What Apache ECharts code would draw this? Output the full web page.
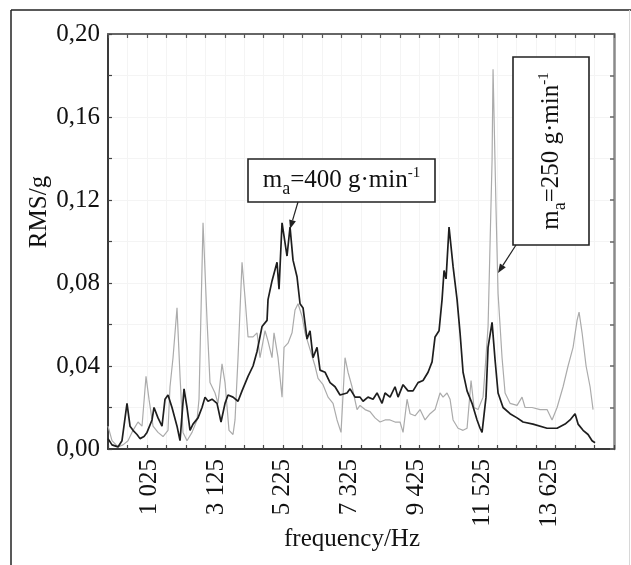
<!DOCTYPE html>
<html><head><meta charset="utf-8">
<script src="https://cdn.jsdelivr.net/npm/echarts@6/dist/echarts.min.js"></script>
<style>html,body{margin:0;padding:0;background:#fff}#c{width:631px;height:565px}</style>
</head><body><div id="c"></div>
<script>
// ---- data ----
const freq400 = [-283,-157,32,158,316,411,505,631,726,852,946,1104,1167,1293,1419,1514,1608,1734,1892,1987,2113,2207,2302,2396,2554,2680,2775,2869,2995,3153,3279,3405,3500,3657,3815,3941,4130,4288,4414,4571,4729,4760,4886,5044,5107,5202,5359,5454,5548,5674,5769,5864,5990,6084,6179,6305,6399,6557,6715,6872,7030,7250,7345,7503,7660,7755,7912,8070,8196,8354,8448,8606,8763,8858,9016,9173,9331,9488,9646,9804,9930,10024,10150,10245,10308,10371,10465,10592,10718,10812,10907,11033,11190,11348,11443,11506,11630,11695,11821,11915,12010,12168,12388,12609,12798,13113,13554,13870,14122,14279,14437,14532,14689,14847,14973,15067];
const rms400 = [0.005,0.002,0.001,0.004,0.022,0.011,0.009,0.007,0.005,0.006,0.008,0.014,0.020,0.015,0.011,0.024,0.026,0.020,0.011,0.004,0.029,0.020,0.009,0.012,0.015,0.020,0.025,0.023,0.024,0.022,0.013,0.022,0.026,0.025,0.023,0.028,0.035,0.040,0.047,0.059,0.062,0.072,0.081,0.090,0.077,0.109,0.093,0.107,0.091,0.083,0.070,0.068,0.053,0.057,0.044,0.049,0.038,0.037,0.032,0.030,0.026,0.027,0.029,0.025,0.025,0.023,0.025,0.024,0.027,0.022,0.027,0.025,0.030,0.025,0.031,0.028,0.028,0.032,0.033,0.037,0.042,0.054,0.057,0.072,0.086,0.082,0.107,0.088,0.072,0.056,0.037,0.028,0.022,0.014,0.010,0.008,0.025,0.049,0.061,0.043,0.027,0.020,0.017,0.015,0.013,0.012,0.010,0.010,0.012,0.014,0.017,0.012,0.009,0.007,0.004,0.003];
const freq250 = [-283,-157,32,190,348,505,663,789,915,1009,1136,1293,1451,1608,1671,1766,1892,1987,2081,2207,2365,2522,2585,2712,2838,2932,3090,3184,3310,3405,3531,3657,3720,3815,3941,4035,4130,4288,4414,4508,4666,4760,4886,4949,5076,5202,5265,5391,5517,5611,5706,5832,5927,6084,6242,6336,6494,6652,6809,6935,7061,7187,7282,7408,7566,7660,7818,7975,8133,8291,8448,8606,8763,8921,9016,9142,9236,9394,9551,9709,9867,10024,10182,10276,10402,10497,10592,10749,10907,11033,11159,11253,11380,11537,11600,11695,11821,11852,11947,12010,12136,12231,12388,12609,12766,12861,13082,13334,13554,13712,13870,14059,14216,14374,14500,14563,14658,14784,14910,15004];
const rms250 = [0.011,0.004,0.001,0.002,0.004,0.009,0.013,0.011,0.035,0.024,0.011,0.008,0.006,0.009,0.030,0.044,0.068,0.035,0.008,0.004,0.008,0.014,0.024,0.109,0.062,0.032,0.027,0.022,0.041,0.032,0.009,0.007,0.014,0.044,0.090,0.073,0.054,0.054,0.056,0.044,0.057,0.052,0.044,0.056,0.044,0.025,0.049,0.051,0.056,0.067,0.070,0.064,0.056,0.048,0.040,0.034,0.031,0.025,0.022,0.014,0.008,0.044,0.037,0.030,0.019,0.021,0.019,0.018,0.015,0.013,0.014,0.014,0.013,0.013,0.008,0.024,0.017,0.016,0.019,0.014,0.017,0.019,0.027,0.025,0.027,0.024,0.014,0.010,0.009,0.010,0.033,0.020,0.019,0.025,0.038,0.059,0.139,0.183,0.115,0.075,0.044,0.027,0.022,0.021,0.025,0.020,0.020,0.019,0.019,0.014,0.020,0.030,0.040,0.049,0.062,0.066,0.056,0.040,0.030,0.019];
const xTickLabels = [1025, 3125, 5225, 7325, 9425, 11525, 13625];
const yTickLabels = [0, 0.04, 0.08, 0.12, 0.16, 0.20];
const xMin = -283, xMax = 15664;
const yMin = 0, yMax = 0.2;

// ---- layout / style ----
const F = 'Liberation Serif';
const xTicks = [];
for (let k = 0; k <= 26; k++) xTicks.push(xMin + k * (xMax - xMin) / 26);
const yTicks = [];
for (let k = 0; k <= 10; k++) yTicks.push(+(k * 0.02).toFixed(2));

function fmtX(v) {
  v = Math.round(v);
  if (v >= 1000) return Math.floor(v / 1000) + ' ' + String(v % 1000).padStart(3, '0');
  return String(v);
}
function fmtY(v) { return v.toFixed(2).replace('.', ','); }

function pairs(xs, ys) { return xs.map((x, i) => [x, ys[i]]); }

function arrow(x1, y1, x2, y2) {
  const dx = x2 - x1, dy = y2 - y1, L = Math.hypot(dx, dy);
  const ux = dx / L, uy = dy / L, hl = 9, hw = 3.5;
  const bx = x2 - ux * hl, by = y2 - uy * hl;
  return [
    {type: 'line', shape: {x1: x1, y1: y1, x2: bx, y2: by}, style: {stroke: '#222', lineWidth: 1.2}, z: 100},
    {type: 'polygon', shape: {points: [[x2, y2], [bx - uy * hw, by + ux * hw], [bx + uy * hw, by - ux * hw]]}, style: {fill: '#222'}, z: 100}
  ];
}

const rich = {
  n: {fontFamily: F, fontSize: 25, lineHeight: 36, verticalAlign: 'middle', fill: '#111'},
  sub: {fontFamily: F, fontSize: 18, lineHeight: 36, verticalAlign: 'bottom', fill: '#111'},
  sup: {fontFamily: F, fontSize: 15, lineHeight: 36, verticalAlign: 'top', fill: '#111', padding: [4, 0, 0, 0]}
};
const txt400 = '{n|m}{sub|a}{n|=400 g·min}{sup|-1}';
const txt250 = '{n|m}{sub|a}{n|=250 g·min}{sup|-1}';

const chart = echarts.init(document.getElementById('c'), null, {renderer: 'canvas'});
chart.setOption({
  animation: false,
  backgroundColor: '#fff',
  grid: {left: 108, top: 34, right: 17, bottom: 116, containLabel: false},
  xAxis: [{
    type: 'value', min: xMin, max: xMax, position: 'bottom',
    axisLine: {show: true, lineStyle: {color: '#3a3a3a', width: 2}},
    axisTick: {show: true, inside: true, length: 4, customValues: xTicks, lineStyle: {color: '#444', width: 1.2}},
    axisLabel: {show: true, customValues: xTickLabels, rotate: 90, margin: 10, formatter: fmtX,
      fontFamily: F, fontSize: 25, color: '#111'},
    splitLine: {show: true, lineStyle: {color: '#f4f4f4', width: 1}}
  }, {
    type: 'value', min: xMin, max: xMax, position: 'top',
    axisLine: {show: true, onZero: false, lineStyle: {color: '#666', width: 2}},
    axisTick: {show: true, inside: true, length: 4, customValues: xTicks, lineStyle: {color: '#555', width: 1.2}},
    axisLabel: {show: false},
    splitLine: {show: false}
  }],
  yAxis: [{
    type: 'value', min: yMin, max: yMax, position: 'left',
    axisLine: {show: true, onZero: false, lineStyle: {color: '#3a3a3a', width: 2}},
    axisTick: {show: true, inside: true, length: 4, customValues: yTicks, lineStyle: {color: '#444', width: 1.2}},
    axisLabel: {show: true, customValues: yTickLabels, margin: 8, formatter: fmtY,
      fontFamily: F, fontSize: 25, color: '#111'},
    splitLine: {show: true, lineStyle: {color: '#f4f4f4', width: 1}}
  }, {
    type: 'value', min: yMin, max: yMax, position: 'right',
    axisLine: {show: true, onZero: false, lineStyle: {color: '#8a8a8a', width: 2.5}},
    axisTick: {show: true, inside: true, length: 4, customValues: yTicks, lineStyle: {color: '#666', width: 1.5}},
    axisLabel: {show: false},
    splitLine: {show: false}
  }],
  series: [{
    name: 'ma=250 g/min', type: 'line', xAxisIndex: 0, yAxisIndex: 0,
    data: pairs(freq250, rms250), showSymbol: false, symbol: 'none',
    lineStyle: {color: '#ababab', width: 1.2}, z: 2
  }, {
    name: 'ma=400 g/min', type: 'line', xAxisIndex: 0, yAxisIndex: 0,
    data: pairs(freq400, rms400), showSymbol: false, symbol: 'none',
    lineStyle: {color: '#1e1e1e', width: 1.7}, z: 3
  }],
  graphic: [
    // outer frame
    {type: 'line', shape: {x1: 11, y1: 10, x2: 631, y2: 10}, style: {stroke: '#222', lineWidth: 1.5}},
    {type: 'line', shape: {x1: 11, y1: 10, x2: 11, y2: 565}, style: {stroke: '#222', lineWidth: 1.5}},
    {type: 'line', shape: {x1: 629.5, y1: 10, x2: 629.5, y2: 565}, style: {stroke: '#d8d8d8', lineWidth: 1}},
    // axis names
    {type: 'text', x: 39, y: 212, rotation: Math.PI / 2,
      style: {text: 'RMS/g', fontFamily: F, fontSize: 25, fill: '#111', align: 'center', verticalAlign: 'middle'}},
    {type: 'text', x: 352, y: 539,
      style: {text: 'frequency/Hz', fontFamily: F, fontSize: 25, fill: '#111', align: 'center', verticalAlign: 'middle'}},
    // annotation 1
    {type: 'rect', shape: {x: 248, y: 159, width: 187, height: 43}, style: {fill: '#fff', stroke: '#222', lineWidth: 1.6}, z: 100},
    {type: 'text', x: 341.5, y: 180, z: 101,
      style: {text: txt400, rich: rich, align: 'center', verticalAlign: 'middle'}},
    ...arrow(298, 202, 290, 229),
    // annotation 2
    {type: 'rect', shape: {x: 513, y: 57, width: 76, height: 188}, style: {fill: '#fff', stroke: '#222', lineWidth: 1.6}, z: 100},
    {type: 'text', x: 551, y: 151, rotation: Math.PI / 2, z: 101,
      style: {text: txt250, rich: rich, align: 'center', verticalAlign: 'middle'}},
    ...arrow(516, 245, 498, 273)
  ]
});
</script>
</body></html>
